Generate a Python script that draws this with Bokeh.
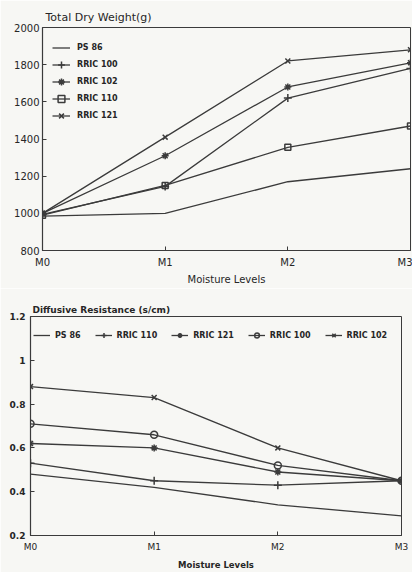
from bokeh.plotting import figure
from bokeh.models import FixedTicker, Range1d, Legend, LegendItem
from bokeh.embed import file_html
from bokeh.resources import INLINE

levels = ["M0", "M1", "M2", "M3"]

# Total dry weight (g)
tdw_names = ["PS 86", "RRIC 100", "RRIC 102", "RRIC 110", "RRIC 121"]
tdw_ps86 = [985, 1000, 1170, 1240]
tdw_rric100 = [995, 1145, 1620, 1780]
tdw_rric102 = [1000, 1310, 1680, 1810]
tdw_rric110 = [990, 1150, 1355, 1470]
tdw_rric121 = [1000, 1410, 1820, 1880]
tdw_ticks = [800, 1000, 1200, 1400, 1600, 1800, 2000]

# Diffusive resistance (s/cm)
dr_names = ["PS 86", "RRIC 110", "RRIC 121", "RRIC 100", "RRIC 102"]
dr_ps86 = [0.48, 0.42, 0.34, 0.29]
dr_rric110 = [0.53, 0.45, 0.43, 0.45]
dr_rric121 = [0.62, 0.60, 0.49, 0.45]
dr_rric100 = [0.71, 0.66, 0.52, 0.45]
dr_rric102 = [0.88, 0.83, 0.60, 0.45]
dr_ticks = [0.2, 0.4, 0.6, 0.8, 1.0, 1.2]
dr_tick_labels = ["0.2", "0.4", "0.6", "0.8", "1", "1.2"]

FONT = "DejaVu Sans"
INK = "#3b3b3b"
TXT = "#262626"
BG = "#f7f7f4"

xs = list(range(len(levels)))
x_over = {i: lab for i, lab in enumerate(levels)}


def style(p, tick_size, label_size, label_style):
    p.outline_line_color = INK
    p.outline_line_width = 1
    p.xgrid.visible = False
    p.ygrid.visible = False
    p.background_fill_color = BG
    p.border_fill_color = BG
    for ax in p.axis:
        ax.axis_line_color = INK
        ax.axis_line_width = 1.2
        ax.major_tick_line_color = INK
        ax.minor_tick_line_color = None
        ax.major_tick_in = 4
        ax.major_tick_out = 0
        ax.major_label_text_font = FONT
        ax.major_label_text_font_size = tick_size
        ax.major_label_text_color = TXT
        ax.axis_label_text_font = FONT
        ax.axis_label_text_font_size = label_size
        ax.axis_label_text_font_style = label_style
        ax.axis_label_text_color = TXT


def add_series(p, y, marker, size):
    r = [p.line(xs, y, line_color=INK, line_width=1.3)]
    if marker is not None:
        r.append(p.scatter(xs, y, marker=marker, size=size, line_color=INK,
                           line_width=1.5, fill_color=None))
    return r


# ---------------- top chart ----------------
p1 = figure(width=412, height=288, x_range=Range1d(0, 3), y_range=Range1d(800, 2000),
            output_backend="svg", toolbar_location=None,
            min_border_left=42, min_border_right=2, min_border_top=27, min_border_bottom=38)
p1.title.text = "Total Dry Weight(g)"
p1.title.text_font = FONT
p1.title.text_font_size = "11px"
p1.title.text_font_style = "normal"
p1.title.text_color = TXT
p1.title.align = "left"
p1.title.offset = 3
p1.title.standoff = 7
p1.xaxis.ticker = FixedTicker(ticks=xs)
p1.xaxis.major_label_overrides = x_over
p1.yaxis.ticker = FixedTicker(ticks=tdw_ticks)
p1.xaxis.axis_label = "Moisture Levels"
style(p1, "10px", "10px", "normal")
p1.xaxis.major_label_standoff = 6
p1.xaxis.axis_label_standoff = 3
p1.yaxis.major_label_standoff = 3

top_data = [tdw_ps86, tdw_rric100, tdw_rric102, tdw_rric110, tdw_rric121]
top_markers = [(None, 0), ("cross", 8), ("asterisk", 7), ("square", 6), ("x", 7)]
items1 = []
for name, y, (m, s) in zip(tdw_names, top_data, top_markers):
    items1.append(LegendItem(label=name, renderers=add_series(p1, y, m, s)))
leg1 = Legend(items=items1, location=(10, 126), orientation="vertical",
              margin=0, padding=0, spacing=0, label_height=17, glyph_height=17,
              glyph_width=18, label_standoff=7,
              label_text_font=FONT, label_text_font_size="8px",
              label_text_font_style="bold", label_text_color=TXT,
              background_fill_alpha=0, border_line_color=None)
p1.add_layout(leg1, "center")

# ---------------- bottom chart ----------------
p2 = figure(width=412, height=284, x_range=Range1d(0, 3), y_range=Range1d(0.2, 1.2),
            output_backend="svg", toolbar_location=None,
            min_border_left=30, min_border_right=11, min_border_top=28, min_border_bottom=34)
p2.title.text = "Diffusive Resistance (s/cm)"
p2.title.text_font = FONT
p2.title.text_font_size = "9px"
p2.title.text_font_style = "bold"
p2.title.text_color = TXT
p2.title.align = "left"
p2.title.offset = 2
p2.title.standoff = 4
p2.xaxis.ticker = FixedTicker(ticks=xs)
p2.xaxis.major_label_overrides = x_over
p2.yaxis.ticker = FixedTicker(ticks=dr_ticks)
p2.yaxis.major_label_overrides = {t: l for t, l in zip(dr_ticks, dr_tick_labels)}
p2.xaxis.axis_label = "Moisture Levels"
style(p2, "9px", "8.5px", "bold")
p2.xaxis.major_label_standoff = 6
p2.xaxis.axis_label_standoff = 5
p2.yaxis.major_label_standoff = 5
p2.yaxis.major_label_text_font_style = "bold"

bot_data = [dr_ps86, dr_rric110, dr_rric121, dr_rric100, dr_rric102]
bot_markers = [(None, 0), ("cross", 8), ("asterisk", 7), ("circle", 7), ("x", 7)]
items2 = []
for name, y, (m, s) in zip(dr_names, bot_data, bot_markers):
    items2.append(LegendItem(label=name, renderers=add_series(p2, y, m, s)))
leg2 = Legend(items=items2, location=(3, 194), orientation="horizontal",
              margin=0, padding=0, spacing=14, label_height=12, glyph_height=12,
              glyph_width=17, label_standoff=5,
              label_text_font=FONT, label_text_font_size="8px",
              label_text_font_style="bold", label_text_color=TXT,
              background_fill_alpha=0, border_line_color=None)
p2.add_layout(leg2, "center")

open("out.html", "w").write(file_html([p1, p2], INLINE))
